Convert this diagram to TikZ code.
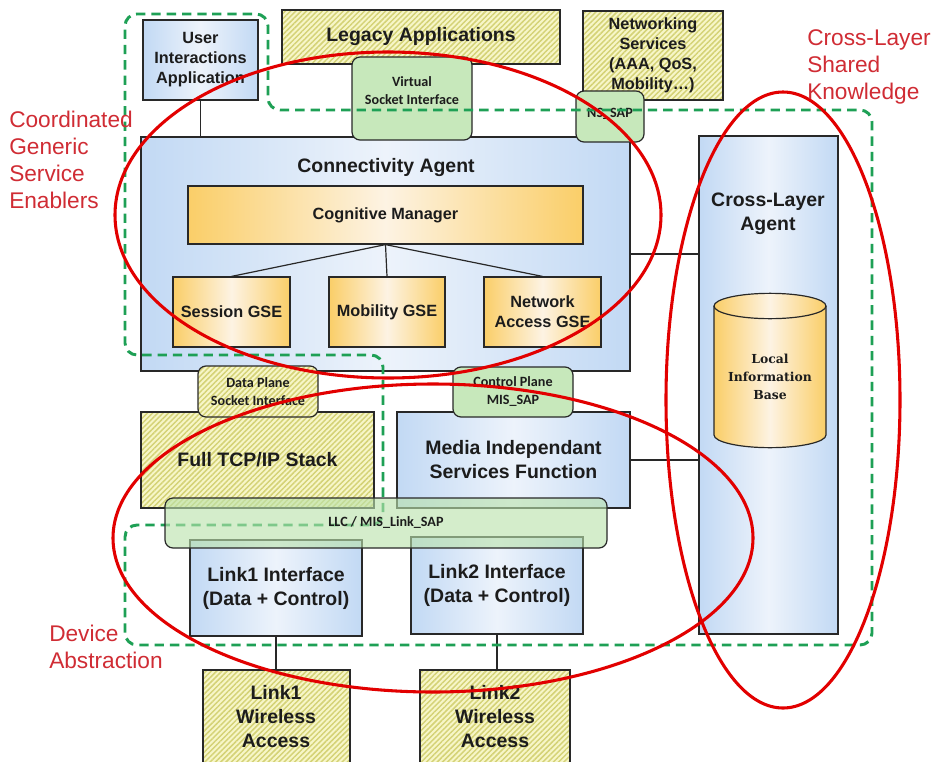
\documentclass[tikz,border=0pt]{standalone}
\usepackage{fontspec}
\newfontfamily\arial{Liberation Sans}
\newfontfamily\calib{Carlito}
\newfontfamily\dserif{DejaVu Serif}
\usetikzlibrary{fit,patterns.meta}
\definecolor{bluE}{RGB}{194,217,244}
\definecolor{bluM}{RGB}{237,243,251}
\definecolor{orE}{RGB}{250,206,104}
\definecolor{orM}{RGB}{253,243,227}
\definecolor{hatchbg}{RGB}{247,246,200}
\definecolor{hatchfg}{RGB}{212,210,118}
\definecolor{sapgreen}{RGB}{199,232,187}
\definecolor{llcgreen}{RGB}{186,226,172}
\definecolor{dashgreen}{RGB}{30,160,85}
\definecolor{ringred}{RGB}{226,0,0}
\definecolor{labred}{RGB}{208,44,52}
\definecolor{edge}{RGB}{40,40,40}
\definecolor{ink}{RGB}{28,28,28}
\begin{document}
\begin{tikzpicture}[x=0.75pt,y=-0.75pt,
  box/.style={draw=edge,line width=0.9pt,inner sep=0pt},
  bluebox/.style={box,left color=bluE,right color=bluE,middle color=bluM},
  orbox/.style={box,left color=orE,right color=orE,middle color=orM},
  hatchbox/.style={box,preaction={fill=hatchbg},pattern={Lines[angle=45,distance=2.8pt,line width=1.1pt]},pattern color=hatchfg},
  sapbox/.style={box,rounded corners=6pt,fill=sapgreen},
  big/.style={font=\arial\bfseries\fontsize{14.6}{18}\selectfont,align=center,text=ink},
  mid/.style={font=\arial\bfseries\fontsize{12.2}{15}\selectfont,align=center,text=ink},
  sap/.style={font=\calib\bfseries\fontsize{10.6}{13.5}\selectfont,align=center,text=ink},
  serif/.style={font=\dserif\bfseries\fontsize{9.3}{13.5}\selectfont,align=center,text=ink},
  redlab/.style={font=\arial\fontsize{17}{20.25}\selectfont,text=labred,align=left,inner sep=0pt},
  ring/.style={draw=ringred,line width=2.3pt},
  zone/.style={draw=dashgreen,line width=2.2pt,dash pattern=on 7pt off 4.5pt,rounded corners=9pt},
  wire/.style={draw=edge,line width=0.9pt}
]
\fill[white] (0,0) rectangle (936,761);
\useasboundingbox (0,0) rectangle (936,761);

% top row
\node[hatchbox,fit={(282,10)(560,64)}] (legacy) {};
\node[big] (legacyT) at (legacy.center) {Legacy Applications};
\node[hatchbox,fit={(583,11)(723,100)}] (netserv) {};
\node[mid] (netservT) at (netserv.center) {Networking\\Services\\(AAA, QoS,\\Mobility…)};
\node[bluebox,fit={(143,20)(258,100)}] (uia) {};
\node[mid] (uiaT) at (uia.center) {User\\Interactions\\Application};

% connectivity agent
\node[bluebox,fit={(141,137)(630,371)}] (ca) {};
\node[big] (caT) at (386,168) {Connectivity Agent};
\node[orbox,fit={(188,186)(583,244)}] (cm) {};
\node[mid] (cmT) at (cm.center) {Cognitive Manager};
\node[orbox,fit={(173,277)(290,347)}] (sess) {};
\node[mid] (sessT) at (sess.center) {Session GSE};
\node[orbox,fit={(329,277)(445,347)}] (mob) {};
\node[mid] (mobT) at (mob.center) {Mobility GSE};
\node[orbox,fit={(484,277)(601,347)}] (nag) {};
\node[mid] (nagT) at (nag.center) {Network\\Access GSE};
\draw[wire] (cm.south) -- (sess.north);
\draw[wire] (cm.south) -- (mob.north);
\draw[wire] (cm.south) -- (nag.north);
\draw[wire] (uia.south) -- (uia.south |- ca.north);

% cross-layer agent
\node[bluebox,fit={(699,136)(838,634)}] (cla) {};
\node[big] (claT) at (768,214) {Cross-Layer\\Agent};
\path[draw=edge,line width=0.9pt,left color=orE,right color=orE,middle color=orM]
  (714,306) -- (714,435) arc[start angle=180,end angle=360,x radius=42pt,y radius=9.5pt]
  -- (826,306) arc[start angle=0,end angle=180,x radius=42pt,y radius=9.5pt] -- cycle;
\draw[edge,line width=0.9pt] (714,306) arc[start angle=180,end angle=360,x radius=42pt,y radius=9.5pt];
\node[serif] (lib) at (770,377) {Local\\Information\\Base};
\draw[wire] (ca.east) -- (ca.east -| cla.west);

% lower layer
\node[hatchbox,fit={(141,412)(374,508)}] (tcp) {};
\node[big] (tcpT) at (tcp.center) {Full TCP/IP Stack};
\node[bluebox,fit={(397,412)(630,508)}] (misf) {};
\node[big] (misfT) at (misf.center) {Media Independant\\Services Function};
\draw[wire] (misf.east) -- (misf.east -| cla.west);
\node[bluebox,fit={(190,540)(362,636)}] (l1) {};
\node[big] (l1T) at (l1.center) {Link1 Interface\\(Data + Control)};
\node[bluebox,fit={(411,537)(583,634)}] (l2) {};
\node[big] (l2T) at (l2.center) {Link2 Interface\\(Data + Control)};
\node[hatchbox,fit={(203,670)(350,770)}] (w1) {};
\node[hatchbox,fit={(420,670)(570,770)}] (w2) {};
\node[big] (w1T) at (276,717) {Link1\\Wireless\\Access};
\node[big] (w2T) at (495,717) {Link2\\Wireless\\Access};
\draw[wire] (l1.south) -- (l1.south |- w1.north);
\draw[wire] (l2.south) -- (l2.south |- w2.north);

% service access points
\node[sapbox,fit={(352,57)(472,140)}] (vsi) {};
\node[sap] (vsiT) at (412,91) {Virtual\\Socket Interface};
\node[sapbox,fit={(576,91)(644,142)}] (nssap) {};
\node[sap] (nssapT) at (610,114) {NS\_SAP};
\node[hatchbox,rounded corners=6pt,fit={(198,366)(318,417)}] (dps) {};
\node[sap] (dpsT) at (dps.center) {Data Plane\\Socket Interface};
\node[sapbox,fit={(453,367)(573,417)}] (cps) {};
\node[sap] (cpsT) at (cps.center) {Control Plane\\MIS\_SAP};

% green dashed zones
\draw[zone] (200,14) -- (268,14) -- (268,110) -- (872,110) -- (872,645) -- (125,645)
  -- (125,525) -- (383,525) -- (383,355) -- (125,355) -- (125,14) -- cycle;

\node[box,rounded corners=6pt,fill=llcgreen,fill opacity=0.62,fit={(165,498)(607,548)}] (llc) {};
\node[sap] (llcT) at (llc.center) {LLC / MIS\_Link\_SAP};

% red rings
\draw[ring] (388,215) ellipse [x radius=204.75pt,y radius=122.25pt];
\draw[ring] (433,538) ellipse [x radius=240pt,y radius=115.5pt];
\draw[ring] (783,400) ellipse [x radius=87.75pt,y radius=231pt];

% red labels
\node[redlab,anchor=west] (cgse) at (9,160) {Coordinated\\Generic\\Service\\Enablers};
\node[redlab,anchor=west] (clsk) at (807,67) {Cross-Layer\\Shared\\Knowledge};
\node[redlab,anchor=west] (dabs) at (49,647) {Device\\Abstraction};
\end{tikzpicture}
\end{document}
